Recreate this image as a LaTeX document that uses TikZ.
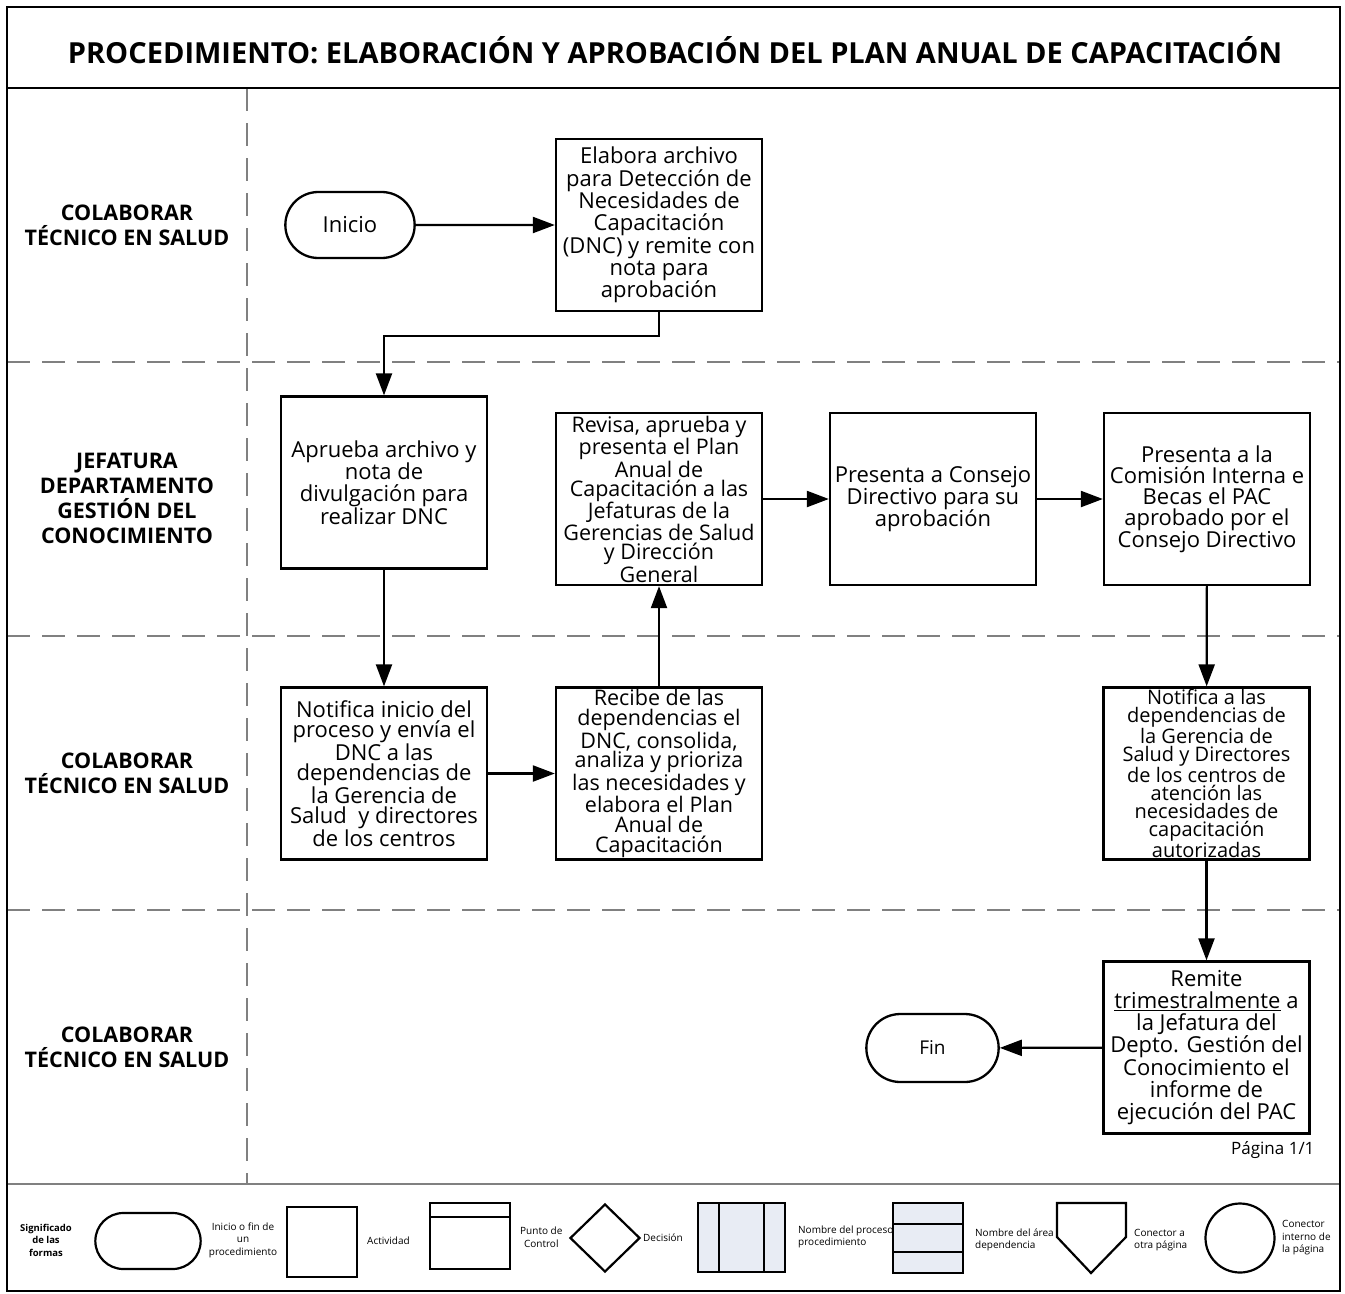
\documentclass[tikz,border=0pt]{standalone}
\usepackage{fontspec}
\setmainfont{Open Sans}
\usetikzlibrary{arrows.meta,shapes.geometric,shapes.misc}

\begin{document}
\begin{tikzpicture}[x=1pt,y=-1pt,
  frame/.style={draw=black, line width=2.4pt},
  lane/.style={draw=black!50, line width=2.2pt, dash pattern=on 23pt off 12pt},
  lanetitle/.style={align=center, font=\bfseries\fontsize{21.5}{25}\selectfont},
  box/.style={draw=black, line width=2.3pt, minimum width=206pt, minimum height=172pt,
    align=center, inner sep=1pt, font=\fontsize{22}{22.3}\selectfont},
  term/.style={rounded rectangle, draw=black, line width=2.3pt, minimum width=136pt,
    minimum height=66pt, font=\fontsize{22}{22}\selectfont},
  arr/.style={line width=2.2pt, -{Triangle[length=22pt,width=16pt]}},
  legshape/.style={draw=black, line width=2.2pt},
  legtext/.style={align=center, font=\fontsize{10}{12.5}\selectfont, inner sep=0pt}
]
\useasboundingbox (0,0) rectangle (1345,1294);

% swimlane grid
\draw[lane] (7,362) -- (1340,362);
\draw[lane] (7,636) -- (1340,636);
\draw[lane] (7,910) -- (1340,910);
\draw[lane] (247,88) -- (247,1184);
\draw[draw=black!50, line width=2.2pt] (7,1184) -- (1340,1184);
\draw[frame] (7,88) -- (1340,88);
\draw[frame] (7,7) rectangle (1340,1291);

% heading
\node[font=\bfseries\fontsize{29}{32}\selectfont] (title) at (675,50)
  {PROCEDIMIENTO: ELABORACIÓN Y APROBACIÓN DEL PLAN ANUAL DE CAPACITACIÓN};

% lane names
\node[lanetitle] (l1) at (127,225) {COLABORAR\\TÉCNICO EN SALUD};
\node[lanetitle] (l2) at (127,498) {JEFATURA\\DEPARTAMENTO\\GESTIÓN DEL\\CONOCIMIENTO};
\node[lanetitle] (l3) at (127,773) {COLABORAR\\TÉCNICO EN SALUD};
\node[lanetitle] (l4) at (127,1047) {COLABORAR\\TÉCNICO EN SALUD};

% process steps
\node[term] (ini) at (350,225) {Inicio};
\node[box] (elab) at (659,225) {Elabora archivo\\para Detección de\\Necesidades de\\Capacitación\\(DNC) y remite con\\nota para\\aprobación};
\node[box] (apr) at (384,482.5) {Aprueba archivo y\\nota de\\divulgación para\\realizar DNC};
\node[box, font=\fontsize{21.5}{19.3}\selectfont] (rev) at (659,499) {Revisa, aprueba y\\presenta el Plan\\Anual de\\Capacitación a las\\Jefaturas de la\\Gerencias de Salud\\y Dirección\\General};
\node[box] (con) at (933,499) {Presenta a Consejo\\Directivo para su\\aprobación};
\node[box, font=\fontsize{22}{21}\selectfont] (com) at (1207,499) {Presenta a la\\Comisión Interna e\\Becas el PAC\\aprobado por el\\Consejo Directivo};
\node[box, font=\fontsize{22}{19.8}\selectfont] (noti) at (384,773.5) {Notifica inicio del\\proceso y envía el\\DNC a las\\dependencias de\\la Gerencia de\\Salud~ y directores\\de los centros};
\node[box, font=\fontsize{21.5}{19.7}\selectfont] (rec) at (659,773.5) {Recibe de las\\dependencias el\\DNC, consolida,\\analiza y prioriza\\las necesidades y\\elabora el Plan\\Anual de\\Capacitación};
\node[box, font=\fontsize{20}{18}\selectfont] (notb) at (1206.5,773.5) {Notifica a las\\dependencias de\\la Gerencia de\\Salud y Directores\\de los centros de\\atención las\\necesidades de\\capacitación\\autorizadas};
\node[box] (rem) at (1206.5,1047.5) {Remite\\\underline{trimestralmente} a\\la Jefatura del\\Depto. Gestión del\\Conocimiento el\\informe de\\ejecución del PAC};
\node[term, minimum width=139pt, minimum height=68pt, font=\fontsize{19}{20}\selectfont] (fin) at (932.5,1048) {Fin};

% connectors
\draw[arr] (ini) -- (elab);
\draw[arr] (elab.south) -- ++(0,24) -| (apr.north);
\draw[arr] (apr) -- (noti);
\draw[arr] (noti) -- (rec);
\draw[arr] (rec) -- (rev);
\draw[arr] (rev) -- (con);
\draw[arr] (con) -- (com);
\draw[arr] (com) -- (notb);
\draw[arr] (notb) -- (rem);
\draw[arr] (rem) -- (fin);

\node[anchor=east, font=\fontsize{17}{19}\selectfont] (pag) at (1318,1150) {Página 1/1};

% key to the shapes
\node[legtext, font=\bfseries\fontsize{9.5}{12.5}\selectfont] (kttl) at (46,1240) {Significado\\de las\\formas};
\node[rounded rectangle, legshape, minimum width=112pt, minimum height=56pt] (kterm) at (148,1241) {};
\node[legtext] (kterml) at (243,1240) {Inicio o fin de\\un\\procedimiento};
\draw[legshape] (287,1207) rectangle (357,1277);
\node[legtext, anchor=west] (kact) at (367,1241) {Actividad};
\draw[legshape] (430,1203) rectangle (510,1269);
\draw[legshape] (430,1217) -- (510,1217);
\node[legtext, anchor=west] (kctl) at (520,1237) {Punto de\\Control};
\node[diamond, legshape, minimum width=70pt, minimum height=68pt, inner sep=0pt] (kdec) at (605,1238) {};
\node[legtext, anchor=west] (kdecl) at (643,1238) {Decisión};
\draw[legshape, fill={rgb,255:red,232;green,236;blue,244}] (698,1203) rectangle (785,1272);
\draw[legshape] (719,1203) -- (719,1272) (764,1203) -- (764,1272);
\node[legtext, anchor=west, align=left] (kproc) at (798,1237) {Nombre del proceso\\procedimiento};
\draw[legshape, fill={rgb,255:red,232;green,236;blue,244}] (893,1203) rectangle (963,1273);
\draw[legshape] (893,1224) -- (963,1224) (893,1252) -- (963,1252);
\node[legtext, anchor=west, align=left] (karea) at (975,1240) {Nombre del área o\\dependencia};
\draw[legshape, fill=white] (1057,1203) -- (1126,1203) -- (1126,1237) -- (1091,1273) -- (1057,1237) -- cycle;
\node[legtext, anchor=west, align=left] (koff) at (1134,1240) {Conector a\\otra página};
\node[circle, legshape, minimum size=69pt, inner sep=0pt] (kcirc) at (1240,1238) {};
\node[legtext, anchor=west, align=left] (kin) at (1282,1238) {Conector\\interno de\\la página};
\end{tikzpicture}
\end{document}
